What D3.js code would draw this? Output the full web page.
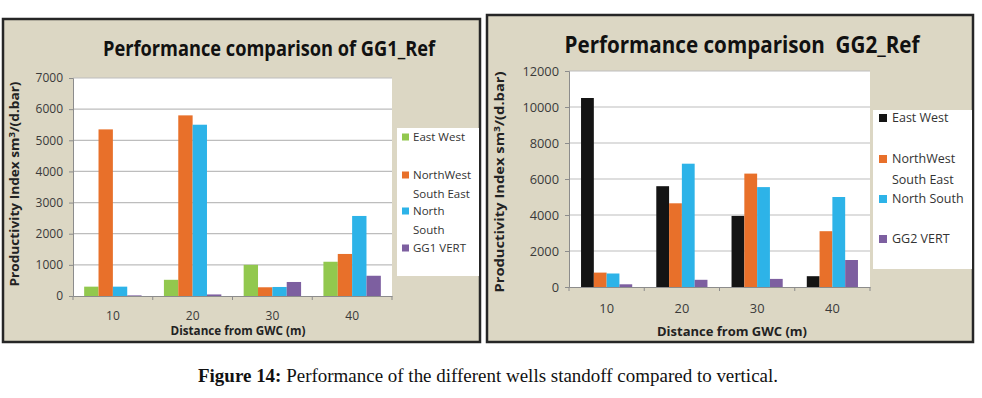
<!DOCTYPE html>
<html>
<head>
<meta charset="utf-8">
<script src="https://cdn.jsdelivr.net/npm/d3@7"></script>
<style>
  body { margin: 0; background: #fff; }
  svg { display: block; }
</style>
</head>
<body>
<div id="chart"></div>
<script>
// distances from GWC (m)
const distances = ["10", "20", "30", "40"];
const seriesNames = ["East West", "NorthWest South East", "North South", "VERT"];

// GG1_Ref productivity index values
const gg1EastWest = [300, 520, 1000, 1100];
const gg1NwSe = [5350, 5800, 280, 1350];
const gg1NorthSouth = [300, 5500, 290, 2570];
const gg1Vert = [20, 50, 450, 650];
const gg1Ticks = [0, 1000, 2000, 3000, 4000, 5000, 6000, 7000];
const gg1Legend = [["East West"], ["NorthWest", "South East"], ["North", "South"], ["GG1 VERT"]];

// GG2_Ref productivity index values
const gg2EastWest = [10500, 5600, 3950, 600];
const gg2NwSe = [800, 4650, 6300, 3100];
const gg2NorthSouth = [750, 6850, 5550, 5000];
const gg2Vert = [150, 400, 450, 1500];
const gg2Ticks = [0, 2000, 4000, 6000, 8000, 10000, 12000];
const gg2Legend = [["East West"], ["NorthWest", "South East"], ["North South"], ["GG2 VERT"]];

const font = "'Open Sans', 'Noto Sans', sans-serif";
const svg = d3.select("#chart").append("svg").attr("width", 982).attr("height", 398);

function drawPanel(cfg) {
  const g = svg.append("g");
  g.append("rect")
    .attr("x", cfg.box[0]).attr("y", cfg.box[1])
    .attr("width", cfg.box[2] - cfg.box[0]).attr("height", cfg.box[3] - cfg.box[1])
    .attr("fill", "#dcd7c4").attr("stroke", "#262626").attr("stroke-width", 2.5);

  const [px0, py0, px1, py1] = cfg.plot;
  const x = d3.scaleBand().domain(distances).range([px0, px1])
    .paddingInner(cfg.pad).paddingOuter(cfg.pad / 2);
  const xs = d3.scaleBand().domain(d3.range(cfg.values.length)).range([0, x.bandwidth()]);
  const y = d3.scaleLinear().domain([0, d3.max(cfg.ticks)]).range([py1, py0]);

  g.append("rect").attr("x", px0).attr("y", py0)
    .attr("width", px1 - px0).attr("height", py1 - py0).attr("fill", "#fff");

  // gridlines
  g.append("g").selectAll("line").data(cfg.ticks.slice(1)).join("line")
    .attr("x1", px0).attr("x2", px1)
    .attr("y1", d => y(d)).attr("y2", d => y(d))
    .attr("stroke", "#bdbdbd").attr("stroke-width", 1.2);

  // bars
  cfg.values.forEach((vals, si) => {
    g.append("g").selectAll("rect").data(vals).join("rect")
      .attr("x", (d, i) => x(distances[i]) + xs(si))
      .attr("y", d => y(d))
      .attr("width", xs.bandwidth())
      .attr("height", d => y(0) - y(d))
      .attr("fill", cfg.colors[si]);
  });

  // y axis
  const ya = g.append("g").attr("transform", `translate(${px0},0)`)
    .call(d3.axisLeft(y).tickValues(cfg.ticks).tickSize(4).tickPadding(cfg.yPad).tickFormat(d3.format("d")));
  ya.select(".domain").attr("stroke", "#8c8c8c");
  ya.selectAll(".tick line").attr("stroke", "#8c8c8c");
  ya.selectAll(".tick text").attr("font-family", font).attr("font-size", cfg.tickSize).attr("fill", "#3a3a3a");

  // x axis with ticks at category boundaries
  const xa = g.append("g").attr("transform", `translate(0,${py1})`)
    .call(d3.axisBottom(x).tickSize(0).tickPadding(cfg.xPad));
  xa.select(".domain").attr("stroke", "#8c8c8c");
  xa.selectAll(".tick text").attr("font-family", font).attr("font-size", cfg.tickSize).attr("fill", "#3a3a3a");
  const bounds = distances.map(d => x(d) - x.step() * x.paddingInner() / 2).concat([px1]);
  xa.selectAll(".bound").data(bounds).join("line")
    .attr("x1", d => d).attr("x2", d => d).attr("y1", 0).attr("y2", 4)
    .attr("stroke", "#8c8c8c");

  // title
  g.append("text").text(cfg.title)
    .attr("x", cfg.titlePos[0]).attr("y", cfg.titlePos[1])
    .attr("text-anchor", "middle").attr("font-family", font).attr("font-weight", "bold")
    .attr("font-size", cfg.titleSize).attr("fill", "#111")
    .attr("textLength", cfg.titleLen).attr("lengthAdjust", "spacingAndGlyphs");

  // axis titles
  g.append("text").text("Distance from GWC (m)")
    .attr("x", cfg.xTitle[0]).attr("y", cfg.xTitle[1])
    .attr("text-anchor", "middle").attr("font-family", font).attr("font-weight", "bold")
    .attr("font-size", cfg.axisSize).attr("fill", "#222")
    .attr("textLength", cfg.xTitleLen).attr("lengthAdjust", "spacingAndGlyphs");

  const yt = g.append("text")
    .attr("transform", `translate(${cfg.yTitle[0]},${cfg.yTitle[1]}) rotate(-90)`)
    .attr("text-anchor", "middle").attr("font-family", font).attr("font-weight", "bold")
    .attr("font-size", cfg.axisSize).attr("fill", "#222")
    .attr("textLength", cfg.yTitleLen).attr("lengthAdjust", "spacingAndGlyphs");
  yt.append("tspan").text("Productivity Index sm");
  yt.append("tspan").text("3").attr("dy", -4).attr("font-size", cfg.axisSize * 0.7);
  yt.append("tspan").text("/(d.bar)").attr("dy", 4);

  // legend
  const lb = cfg.legendBox;
  g.append("rect").attr("x", lb[0]).attr("y", lb[1])
    .attr("width", lb[2] - lb[0]).attr("height", lb[3] - lb[1]).attr("fill", "#fff");
  cfg.legend.forEach((lines, si) => {
    const ly = cfg.legendY[si];
    g.append("rect").attr("x", cfg.swatchX).attr("y", ly - cfg.swatch / 2)
      .attr("width", cfg.swatch).attr("height", cfg.swatch).attr("fill", cfg.colors[si]);
    lines.forEach((ln, li) => {
      g.append("text").text(ln)
        .attr("x", cfg.legendTextX).attr("y", ly + li * cfg.lineGap)
        .attr("dy", "0.35em").attr("font-family", font)
        .attr("font-size", cfg.legendSize).attr("fill", "#333");
    });
  });
}

drawPanel({
  box: [3, 19, 480, 342],
  plot: [73, 78, 392, 296],
  pad: 0.28,
  values: [gg1EastWest, gg1NwSe, gg1NorthSouth, gg1Vert],
  colors: ["#92c84e", "#e8702a", "#2db3e8", "#7d5fa0"],
  ticks: gg1Ticks,
  tickSize: 12, yPad: 6, xPad: 15,
  title: "Performance comparison of GG1_Ref",
  titlePos: [269, 56], titleSize: 22, titleLen: 332,
  axisSize: 11.5,
  xTitle: [238, 335], xTitleLen: 135,
  yTitle: [19, 184], yTitleLen: 205,
  legendBox: [397, 128, 479, 276],
  legend: gg1Legend,
  legendY: [137, 175, 211, 248],
  lineGap: 18.5,
  swatchX: 402, swatch: 7, legendTextX: 413, legendSize: 11.5
});

drawPanel({
  box: [487, 15, 973, 342],
  plot: [569, 71, 870, 287],
  pad: 0.32,
  values: [gg2EastWest, gg2NwSe, gg2NorthSouth, gg2Vert],
  colors: ["#141414", "#e8702a", "#2db3e8", "#7d5fa0"],
  ticks: gg2Ticks,
  tickSize: 12.8, yPad: 6, xPad: 17,
  title: "Performance comparison\u00a0\u00a0GG2_Ref",
  titlePos: [742, 53], titleSize: 24, titleLen: 355,
  axisSize: 12.5,
  xTitle: [732, 336], xTitleLen: 150,
  yTitle: [504, 182], yTitleLen: 221,
  legendBox: [873, 110, 972, 269],
  legend: gg2Legend,
  legendY: [118, 159, 199, 239],
  lineGap: 21,
  swatchX: 879, swatch: 8, legendTextX: 892, legendSize: 12.5
});

// caption
const cap = svg.append("text").attr("x", 198).attr("y", 382)
  .attr("font-family", "'Liberation Serif', 'DejaVu Serif', serif").attr("font-size", 18)
  .attr("fill", "#111").attr("textLength", 580).attr("lengthAdjust", "spacingAndGlyphs");
cap.append("tspan").text("Figure 14:").attr("font-weight", "bold");
cap.append("tspan").text(" Performance of the different wells standoff compared to vertical.");
</script>
</body>
</html>
